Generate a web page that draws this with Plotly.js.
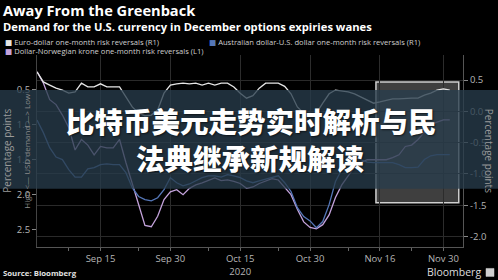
<!DOCTYPE html>
<html>
<head>
<meta charset="utf-8">
<script src="https://cdn.plot.ly/plotly-3.0.1.min.js"></script>
<style>
html,body{margin:0;padding:0;background:#000;}
#chart{width:498px;height:280px;}
</style>
</head>
<body>
<div id="chart"></div>
<script>
// ---- data (business days, Sep 1 – Dec 1 2020) ----
const dates = [
 '2020-09-01','2020-09-02','2020-09-03','2020-09-04','2020-09-07','2020-09-08','2020-09-09','2020-09-10','2020-09-11',
 '2020-09-14','2020-09-15','2020-09-16','2020-09-17','2020-09-18','2020-09-21','2020-09-22','2020-09-23','2020-09-24','2020-09-25',
 '2020-09-28','2020-09-29','2020-09-30','2020-10-01','2020-10-02','2020-10-05','2020-10-06','2020-10-07','2020-10-08','2020-10-09',
 '2020-10-12','2020-10-13','2020-10-14','2020-10-15','2020-10-16','2020-10-19','2020-10-20','2020-10-21','2020-10-22','2020-10-23',
 '2020-10-26','2020-10-27','2020-10-28','2020-10-29','2020-10-30','2020-11-02','2020-11-03','2020-11-04','2020-11-05','2020-11-06',
 '2020-11-09','2020-11-10','2020-11-11','2020-11-12','2020-11-13','2020-11-16','2020-11-17','2020-11-18','2020-11-19','2020-11-20',
 '2020-11-23','2020-11-24','2020-11-25','2020-11-26','2020-11-27','2020-11-30','2020-12-01'
];
// Euro-dollar one-month risk reversals (right axis)
const euroRR = [
 0.63,0.47,0.42,0.37,0.34,0.29,0.31,0.45,0.39,0.39,
 0.44,0.39,0.39,0.39,0.23,0.07,-0.03,-0.07,-0.06,0.02,
 0.29,0.42,0.44,0.45,0.44,0.45,0.42,0.45,0.42,0.45,
 0.45,0.39,0.29,0.21,0.25,0.37,0.45,0.45,0.45,0.40,
 0.28,0.07,-0.03,-0.06,-0.03,0.13,0.28,0.34,0.33,0.31,
 0.28,0.23,0.17,0.13,0.15,0.18,0.20,0.20,0.21,0.21,
 0.21,0.26,0.29,0.34,0.36,0.34
];
// Australian dollar-U.S. dollar one-month risk reversals (right axis)
const audRR = [
 -0.14,-0.34,-0.58,-0.73,-0.77,-0.93,-1.05,-1.05,-0.92,-0.90,
 -0.85,-0.84,-0.85,-0.85,-0.98,-1.22,-1.36,-1.41,-1.43,-1.38,
 -1.25,-1.06,-1.14,-1.19,-1.16,-1.11,-1.06,-1.03,-1.03,-1.05,
 -1.01,-1.03,-1.06,-1.11,-1.14,-1.11,-1.08,-1.05,-1.03,-1.14,
 -1.28,-1.54,-1.68,-1.75,-1.86,-1.76,-1.49,-1.12,-0.93,-0.77,
 -0.74,-0.77,-0.81,-0.82,-0.82,-0.81,-0.82,-0.85,-0.90,-0.90,
 -0.89,-0.77,-0.71,-0.69,-0.69,-0.69
];
// Dollar-Norwegian krone one-month risk reversals (left axis, inverted)
const nokRR = [
 0.24,0.40,0.64,0.71,0.86,1.04,1.36,1.21,1.29,1.43,
 1.31,1.33,1.33,1.21,1.54,1.83,2.14,2.44,2.46,2.31,
 2.07,1.96,1.93,2.00,1.91,1.86,1.83,1.79,1.76,1.80,
 1.79,1.81,1.84,1.91,1.89,1.84,1.80,1.77,1.79,1.89,
 2.00,2.21,2.39,2.47,2.49,2.43,2.29,2.04,1.86,1.73,
 1.61,1.54,1.50,1.50,1.50,1.50,1.47,1.43,1.31,1.29,
 1.21,1.10,1.00,0.96,0.93,0.93
];
const seriesNames = [
 'Euro-dollar one-month risk reversals (R1)',
 'Australian dollar-U.S. dollar one-month risk reversals (R1)',
 'Dollar-Norwegian krone one-month risk reversals (L1)'
];
const seriesColors = ['#e6e6e6','#5577b8','#c4a3dc'];
const xTickVals = ['2020-09-15','2020-09-30','2020-10-15','2020-10-30','2020-11-16','2020-11-30'];
const xTickText = ['Sep 15','Sep 30','Oct 15<br>2020','Oct 30','Nov 16','Nov 30'];
const xMinorVals = ['2020-09-08','2020-09-23','2020-10-08','2020-10-23','2020-11-09','2020-11-23'];
const leftTicks = [0.5,1.0,1.5,2.0,2.5];
const rightTicks = [0.5,0.0,-0.5,-1.0,-1.5,-2.0];
const highlightStart = '2020-11-13 09:00';
const highlightEnd = '2020-12-02 10:00';
const highlightTop = 0.47, highlightBottom = -1.46;

// ---- geometry helpers ----
const W=498,H=280,ML=37,MR=35,MT=55,MB=32.5;
const px = x => (x-ML)/(W-ML-MR);
const py = y => (H-MB-y)/(H-MT-MB);

const traces = [
 {x:dates,y:nokRR,yaxis:'y',type:'scatter',mode:'lines',name:seriesNames[2],line:{color:seriesColors[2],width:1.3}},
 {x:dates,y:audRR,yaxis:'y2',type:'scatter',mode:'lines',name:seriesNames[1],line:{color:seriesColors[1],width:1.3}},
 {x:dates,y:euroRR,yaxis:'y2',type:'scatter',mode:'lines',name:seriesNames[0],line:{color:seriesColors[0],width:1.3}}
];

const baseFont = 'Open Sans, DejaVu Sans, sans-serif';
const cjkFont = 'Noto Sans CJK SC, sans-serif';

const ann = [];
ann.push({xref:'paper',yref:'paper',x:px(1),y:py(9.6),xanchor:'left',yanchor:'middle',showarrow:false,
  text:'<b>Away From the Greenback</b>',font:{family:baseFont,size:14.6,color:'#ffffff'}});
ann.push({xref:'paper',yref:'paper',x:px(1),y:py(26.2),xanchor:'left',yanchor:'middle',showarrow:false,
  text:'<b>Demand for the U.S. currency in December options expiries wanes</b>',font:{family:baseFont,size:11.2,color:'#ffffff'}});
const legPos = [[3,42],[207,42],[3,51]];
for(let k=0;k<3;k++){
  ann.push({xref:'paper',yref:'paper',x:px(legPos[k][0]),y:py(legPos[k][1]),xanchor:'left',yanchor:'middle',showarrow:false,
    text:'<span style="color:'+seriesColors[k]+'">■</span> '+seriesNames[k],font:{family:baseFont,size:7.6,color:'#cfcfcf'}});
}
ann.push({xref:'paper',yref:'paper',x:px(1),y:py(274),xanchor:'left',yanchor:'middle',showarrow:false,
  text:'<b>Source: Bloomberg</b>',font:{family:baseFont,size:7.8,color:'#e0e0e0'}});
ann.push({xref:'paper',yref:'paper',x:px(483),y:py(273),xanchor:'right',yanchor:'middle',showarrow:false,
  text:'Bloomberg',font:{family:baseFont,size:10.5,color:'#dddddd'}});
ann.push({xref:'paper',yref:'paper',x:px(489),y:py(151),xanchor:'center',yanchor:'middle',showarrow:false,textangle:90,
  text:'Percentage points',font:{family:baseFont,size:10,color:'#9a9a9a'}});
ann.push({xref:'paper',yref:'paper',x:px(7),y:py(151),xanchor:'center',yanchor:'middle',showarrow:false,textangle:-90,
  text:'Percentage points',font:{family:baseFont,size:10,color:'#9a9a9a'}});
ann.push({xref:'paper',yref:'paper',x:px(27),y:py(151),xanchor:'center',yanchor:'middle',showarrow:false,textangle:-90,
  text:'High <— USD demand —> Low',font:{family:baseFont,size:8,color:'#8a8a8a'}});
// overlay headline
ann.push({xref:'paper',yref:'paper',x:px(251),y:py(121),xanchor:'center',yanchor:'middle',showarrow:false,
  text:'比特币美元走势实时解析与民',font:{family:cjkFont,size:28.5,color:'#ffffff',weight:900,shadow:'1px 1px 2px rgba(0,0,0,0.6)'}});
ann.push({xref:'paper',yref:'paper',x:px(250),y:py(158),xanchor:'center',yanchor:'middle',showarrow:false,
  text:'法典继承新规解读',font:{family:cjkFont,size:28.5,color:'#ffffff',weight:900,shadow:'1px 1px 2px rgba(0,0,0,0.6)'}});

const shapes = [
 {type:'rect',xref:'x',yref:'y2',x0:highlightStart,x1:highlightEnd,y0:highlightBottom,y1:highlightTop,
  fillcolor:'rgba(140,140,140,0.45)',line:{color:'#d0d0d0',width:1.5},layer:'below'},
 {type:'rect',xref:'paper',yref:'paper',x0:px(0),x1:px(498),y0:py(189),y1:py(90),
  fillcolor:'rgba(40,60,76,0.78)',line:{width:0},layer:'above'},
 {type:'rect',xref:'paper',yref:'paper',x0:px(486),x1:px(494),y0:py(277),y1:py(269),
  fillcolor:'#cfcfcf',line:{color:'#cfcfcf',width:0.5},layer:'above'}
];

const layout = {
  width:W,height:H,
  margin:{l:ML,r:MR,t:MT,b:MB,pad:0},
  paper_bgcolor:'#000000',plot_bgcolor:'#000000',
  showlegend:false,
  font:{family:baseFont,color:'#b0b0b0',size:9.5},
  xaxis:{type:'date',range:['2020-09-01','2020-12-03 02:00'],
    rangebreaks:[{bounds:['sat','mon']}],
    tickmode:'array',tickvals:xTickVals,ticktext:xTickText,
    ticks:'outside',ticklen:3,tickcolor:'#666',
    showgrid:true,gridcolor:'#2c2c2c',gridwidth:1,
    showline:true,linecolor:'#555',linewidth:1,
    tickfont:{size:9.5,color:'#b5b5b5'},
    minor:{tickmode:'array',tickvals:xMinorVals,ticks:'outside',ticklen:3,tickcolor:'#666',showgrid:false},
    zeroline:false,fixedrange:true},
  yaxis:{range:[2.75,0],tickmode:'array',tickvals:leftTicks,ticktext:leftTicks.map(v=>v.toFixed(1)),
    ticks:'outside',ticklen:4,tickcolor:'#888',showgrid:false,zeroline:false,
    showline:true,linecolor:'#444',tickfont:{size:9.5,color:'#b5b5b5'}},
  yaxis2:{overlaying:'y',side:'right',range:[-2.167,0.9],tickmode:'array',tickvals:rightTicks,
    ticktext:rightTicks.map(v=>v.toFixed(1)),ticks:'outside',ticklen:4,tickcolor:'#888',
    showgrid:true,gridcolor:'#2a2a2a',zeroline:false,showline:true,linecolor:'#555',
    tickfont:{size:9.5,color:'#b5b5b5'}},
  annotations:ann,
  shapes:shapes
};

Plotly.newPlot('chart',traces,layout,{displayModeBar:false,staticPlot:true});
</script>
</body>
</html>
